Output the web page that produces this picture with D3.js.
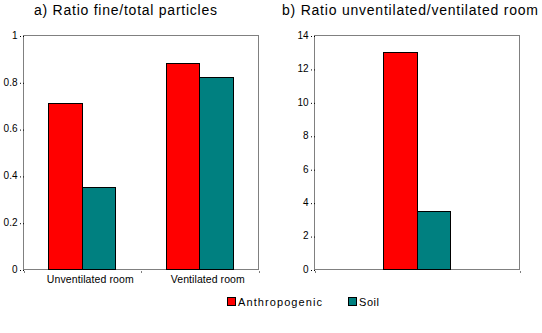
<!DOCTYPE html>
<html>
<head>
<meta charset="utf-8">
<script src="https://cdn.jsdelivr.net/npm/d3@7"></script>
<style>
  html, body { margin: 0; padding: 0; background: #fff; }
  svg { display: block; font-family: Arial, "Liberation Sans", sans-serif; }
</style>
</head>
<body>
<svg id="chart" width="542" height="333"></svg>
<script>
// ---- data ----
const seriesNames = ["Anthropogenic", "Soil"];
const seriesColors = ["#FF0000", "#008080"];

const titleA = "a) Ratio fine/total particles";
const categoriesA = ["Unventilated room", "Ventilated room"];
const anthropogenicA = [0.71, 0.88];
const soilA = [0.35, 0.82];
const ticksA = [0, 0.2, 0.4, 0.6, 0.8, 1];
const tickLabelsA = ["0", "0.2", "0.4", "0.6", "0.8", "1"];

const titleB = "b) Ratio unventilated/ventilated room";
const categoriesB = [""];
const anthropogenicB = [13.0];
const soilB = [3.5];
const ticksB = [0, 2, 4, 6, 8, 10, 12, 14];
const tickLabelsB = ["0", "2", "4", "6", "8", "10", "12", "14"];

const svg = d3.select("#chart");

function panel(cfg) {
  const g = svg.append("g");
  const y = d3.scaleLinear().domain(cfg.yDomain).range([cfg.bottom, cfg.top]);
  const x0 = d3.scaleBand().domain(cfg.categories.map((c, i) => i))
    .range([cfg.left, cfg.right]).paddingInner(0).paddingOuter(0);
  const x1 = d3.scaleBand().domain(seriesNames)
    .range([0, x0.bandwidth()]).paddingInner(0).paddingOuter(cfg.outer);

  // plot box
  g.append("rect")
    .attr("x", cfg.left).attr("y", cfg.top)
    .attr("width", cfg.right - cfg.left).attr("height", cfg.bottom - cfg.top)
    .attr("fill", "none").attr("stroke", "#808080").attr("stroke-width", 1)
    .attr("shape-rendering", "crispEdges");

  // bars
  const rows = cfg.categories.map((c, i) => ({ i, vals: [cfg.series[0][i], cfg.series[1][i]] }));
  const grp = g.selectAll("g.cat").data(rows).enter().append("g")
    .attr("transform", d => `translate(${x0(d.i)},0)`);
  grp.selectAll("rect").data(d => d.vals.map((v, k) => ({ v, k }))).enter().append("rect")
    .attr("x", d => x1(seriesNames[d.k]))
    .attr("y", d => y(d.v))
    .attr("width", x1.bandwidth())
    .attr("height", d => y(0) - y(d.v))
    .attr("fill", d => seriesColors[d.k])
    .attr("stroke", "#000").attr("stroke-width", 1)
    .attr("shape-rendering", "crispEdges");

  // y axis labels with dot ticks
  const yAxis = d3.axisLeft(y).tickValues(cfg.ticks)
    .tickFormat((d, i) => cfg.tickLabels[i]).tickSize(0).tickPadding(0);
  const ya = g.append("g").attr("transform", `translate(${cfg.left - 6},0)`).call(yAxis);
  ya.select(".domain").remove();
  ya.selectAll("text").attr("font-size", "10px").attr("font-family", "Arial, 'Liberation Sans', sans-serif")
    .attr("fill", "#000").attr("dy", "0.28em");
  ya.selectAll(".tick").append("rect")
    .attr("x", 2.5).attr("y", 0).attr("width", 1).attr("height", 1).attr("fill", "#000");
  ya.selectAll(".tick").append("rect")
    .attr("x", 5.5).attr("y", 0).attr("width", 1).attr("height", 1).attr("fill", "#000");

  // x axis dots at category boundaries
  const bounds = cfg.categories.map((c, i) => x0(i)).concat([cfg.right]);
  g.selectAll("rect.xdot").data(bounds).enter().append("rect")
    .attr("class", "xdot")
    .attr("x", d => Math.round(d)).attr("y", cfg.bottom + 2).attr("width", 1).attr("height", 1)
    .attr("fill", "#000");

  // category labels
  g.selectAll("text.cat").data(cfg.categories).enter().append("text")
    .attr("class", "cat")
    .attr("x", (d, i) => x0(i) + x0.bandwidth() / 2 + 8)
    .attr("y", cfg.bottom + 13)
    .attr("text-anchor", "middle")
    .attr("font-size", "10.5px")
    .attr("textLength", (d, i) => cfg.catWidths[i])
    .attr("lengthAdjust", "spacing")
    .text(d => d);

  // title
  g.append("text").attr("x", cfg.titleX).attr("y", 14.5)
    .attr("font-size", "14px")
    .attr("textLength", cfg.titleWidth).attr("lengthAdjust", "spacing")
    .text(cfg.title);
}

panel({
  title: titleA, titleX: 34, titleWidth: 183,
  categories: categoriesA, series: [anthropogenicA, soilA], catWidths: [87, 74],
  yDomain: [0, 1], ticks: ticksA, tickLabels: tickLabelsA,
  left: 23.5, right: 258.5, top: 35.5, bottom: 269.5, outer: 0.746
});

panel({
  title: titleB, titleX: 282, titleWidth: 256,
  categories: categoriesB, series: [anthropogenicB, soilB], catWidths: [0],
  yDomain: [0, 14], ticks: ticksB, tickLabels: tickLabelsB,
  left: 314.5, right: 519.5, top: 35.5, bottom: 269.5, outer: 2.08
});

// legend
const legend = svg.append("g");
const legendX = [227.5, 348.5];
const legendW = [84, 20];
seriesNames.forEach((name, k) => {
  legend.append("rect").attr("x", legendX[k]).attr("y", 297.5)
    .attr("width", 8).attr("height", 8)
    .attr("fill", seriesColors[k]).attr("stroke", "#000").attr("stroke-width", 1)
    .attr("shape-rendering", "crispEdges");
  legend.append("text").attr("x", legendX[k] + 10.5).attr("y", 306)
    .attr("font-size", "11px")
    .attr("textLength", legendW[k]).attr("lengthAdjust", "spacing")
    .text(name);
});
</script>
</body>
</html>
